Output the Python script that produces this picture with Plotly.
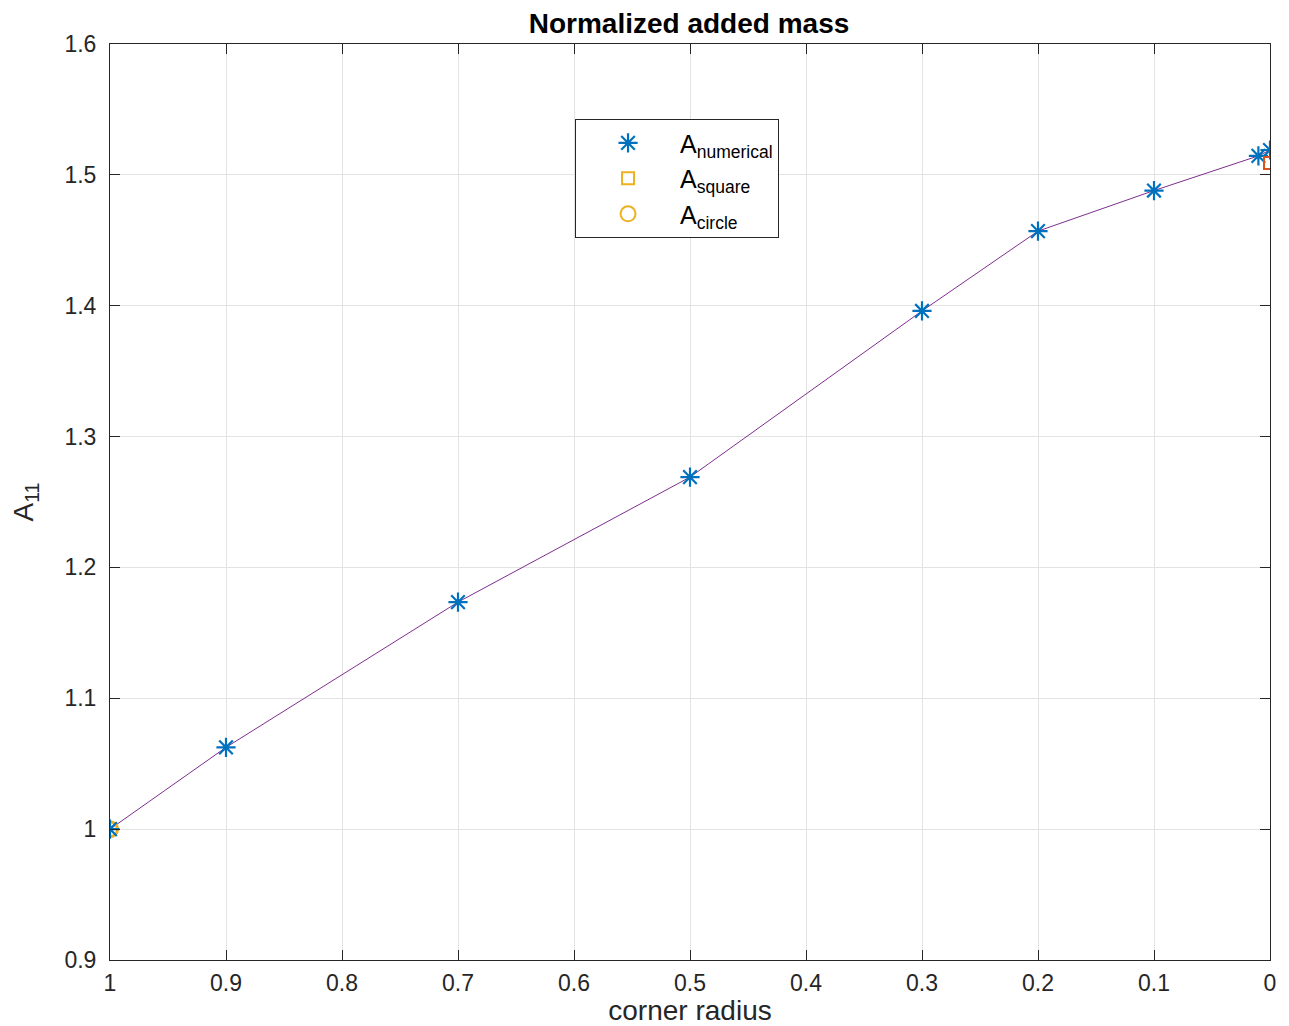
import plotly.graph_objects as go

radius = [1.0, 0.9, 0.7, 0.5, 0.3, 0.2, 0.1, 0.01, 0.0]
a_numerical = [1.000, 1.0625, 1.1735, 1.269, 1.396, 1.457, 1.488, 1.5145, 1.519]
sq_x = [0.0]
a_square = [1.509]
circ_x = [1.0]
a_circle = [1.0]

x_ticks = [1, 0.9, 0.8, 0.7, 0.6, 0.5, 0.4, 0.3, 0.2, 0.1, 0]
x_tick_labels = ["1", "0.9", "0.8", "0.7", "0.6", "0.5", "0.4", "0.3", "0.2", "0.1", "0"]
y_ticks = [0.9, 1.0, 1.1, 1.2, 1.3, 1.4, 1.5, 1.6]
y_tick_labels = ["0.9", "1", "1.1", "1.2", "1.3", "1.4", "1.5", "1.6"]

FONT = "Liberation Sans, Arial, Helvetica, sans-serif"
fig = go.Figure()

# line connecting numerical values
fig.add_trace(go.Scatter(x=radius, y=a_numerical, mode="lines",
                         line=dict(color="#7E2F8E", width=1), showlegend=False,
                         hoverinfo="skip"))
# circle (plotted)
fig.add_trace(go.Scatter(x=circ_x, y=a_circle, mode="markers",
                         marker=dict(symbol="circle-open", size=15, color="#EDB120",
                                     line=dict(width=3, color="#EDB120")),
                         showlegend=False))
# numerical asterisks
fig.add_trace(go.Scatter(x=radius, y=a_numerical, mode="markers",
                         name="A<sub>numerical</sub>",
                         marker=dict(symbol="asterisk-open", size=16, color="#0072BD",
                                     line=dict(width=2.2, color="#0072BD"))))
# square (plotted)
fig.add_trace(go.Scatter(x=sq_x, y=a_square, mode="markers",
                         marker=dict(symbol="square-open", size=12, color="#D95319",
                                     line=dict(width=2, color="#D95319")),
                         showlegend=False))
# legend entries
fig.add_trace(go.Scatter(x=[None], y=[None], mode="markers", name="A<sub>square</sub>",
                         marker=dict(symbol="square-open", size=12, color="#EDB120",
                                     line=dict(width=2, color="#EDB120"))))
fig.add_trace(go.Scatter(x=[None], y=[None], mode="markers", name="A<sub>circle</sub>",
                         marker=dict(symbol="circle-open", size=15, color="#EDB120",
                                     line=dict(width=2, color="#EDB120"))))

axis_common = dict(showline=True, mirror="ticks", linecolor="#262626", linewidth=1,
                   ticks="inside", ticklen=10, tickcolor="#262626",
                   showgrid=True, gridcolor="#E3E3E3", gridwidth=1, zeroline=False,
                   automargin=False,
                   tickfont=dict(family=FONT, size=23, color="#262626"))

fig.update_layout(
    width=1289, height=1026,
    margin=dict(l=110, r=19, t=44, b=66),
    plot_bgcolor="white", paper_bgcolor="white",
    title=dict(text="<b>Normalized added mass</b>", x=689 / 1289, xanchor="center",
               y=1 - 23 / 1026, yanchor="middle",
               font=dict(family=FONT, size=28, color="black")),
    xaxis=dict(range=[1, 0], tickvals=x_ticks, ticktext=x_tick_labels,
               ticklabelstandoff=2,
               title=dict(text="corner radius", standoff=2,
                          font=dict(family=FONT, size=28, color="#262626")),
               **axis_common),
    yaxis=dict(range=[0.9, 1.6], tickvals=y_ticks, ticktext=y_tick_labels,
               ticklabelstandoff=8,
               title=dict(text="A<sub>11</sub>", standoff=22,
                          font=dict(family=FONT, size=28, color="#262626")),
               **axis_common),
    legend=dict(x=0.4009, y=0.918, xanchor="left", yanchor="top",
                bgcolor="white", bordercolor="#262626", borderwidth=1,
                font=dict(family=FONT, size=25, color="black"),
                itemwidth=94, tracegroupgap=0),
    showlegend=True,
)

fig.write_html("out.html")
